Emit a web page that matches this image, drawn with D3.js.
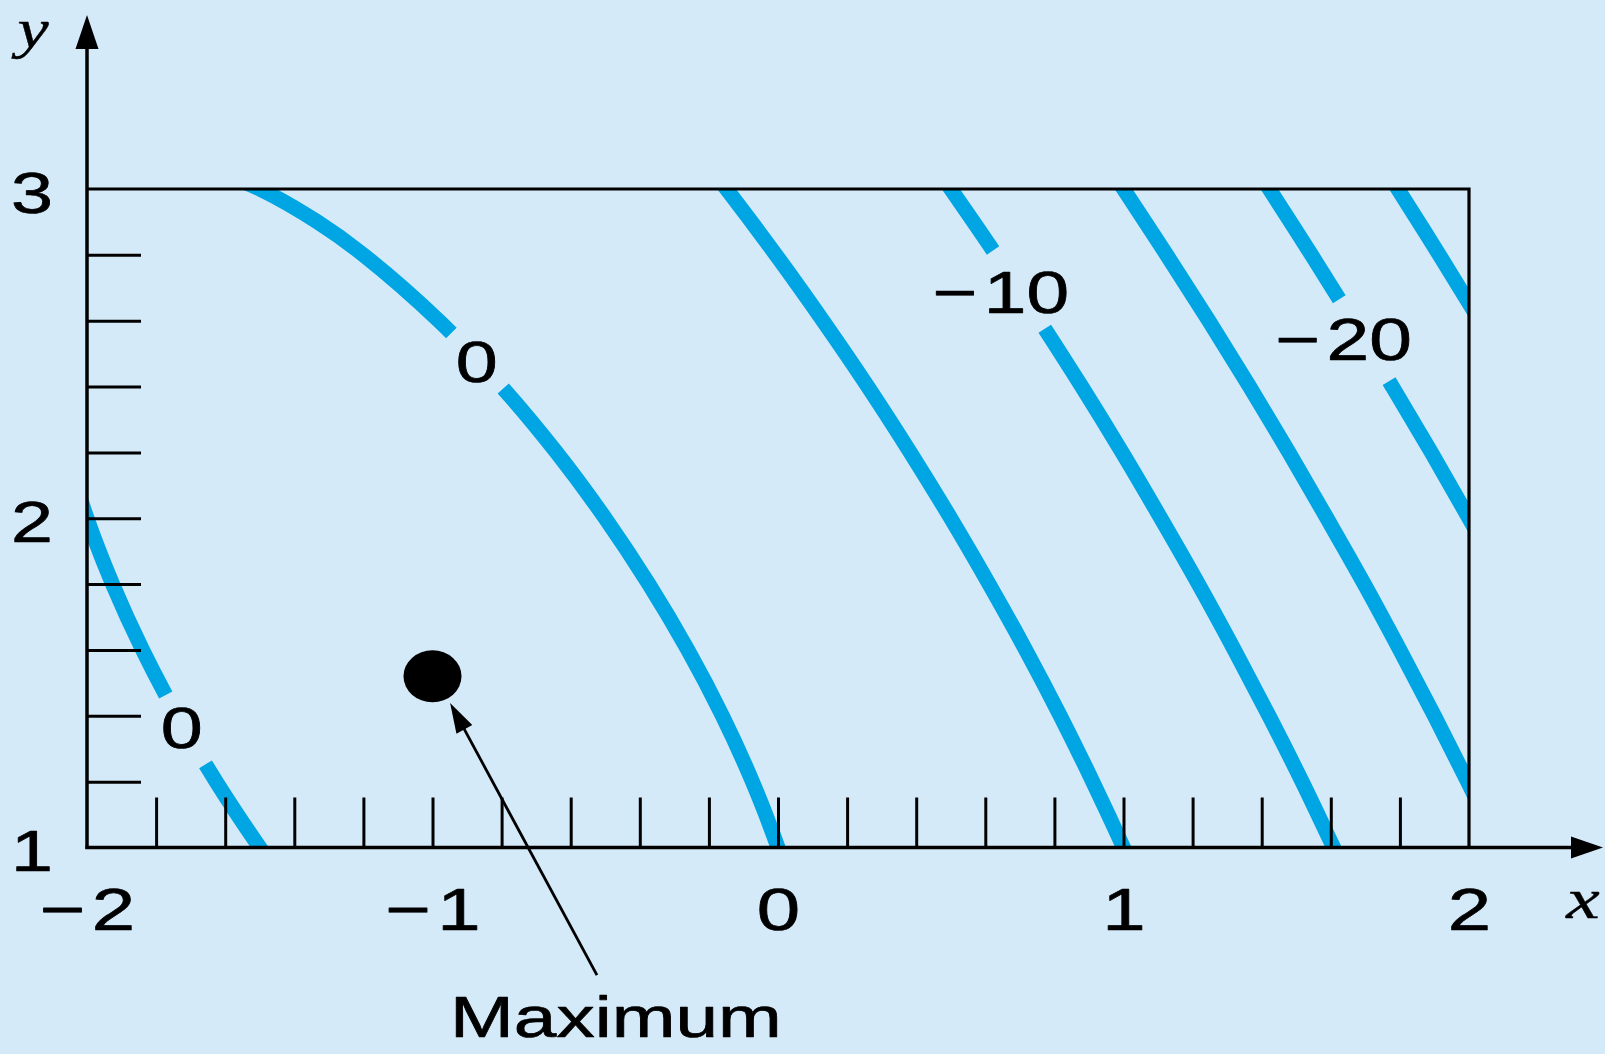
<!DOCTYPE html>
<html>
<head>
<meta charset="utf-8">
<script src="https://cdn.jsdelivr.net/npm/d3@7"></script>
<style>
  html, body { margin: 0; padding: 0; background: #d5eaf9; }
  svg { display: block; }
</style>
</head>
<body>
<svg id="chart" width="1605" height="1054"></svg>
<script>
// ---- Contour lines of f(x, y), each listed from bottom (y = 1) to top (y = 3) ----
const contour0Upper = [[0.016, 0.95], [0.0, 1.0], [-0.074, 1.2], [-0.161, 1.4], [-0.261, 1.6], [-0.374, 1.8],
  [-0.5, 2.0], [-0.641, 2.2], [-0.8, 2.4], [-0.982, 2.6], [-1.2, 2.8], [-1.333, 2.9], [-1.5, 3.0], [-1.62, 3.05]];
const contour0Lower = [[-1.466, 0.95], [-1.5, 1.0], [-1.626, 1.2], [-1.739, 1.4], [-1.839, 1.6], [-1.926, 1.8],
  [-2.0, 2.0], [-2.06, 2.2]];
const contourM5 = [[1.021, 0.95], [1.0, 1.0], [0.911, 1.2], [0.817, 1.4], [0.717, 1.6], [0.611, 1.8], [0.5, 2.0],
  [0.383, 2.2], [0.26, 2.4], [0.13, 2.6], [-0.006, 2.8], [-0.149, 3.0], [-0.224, 3.1]];
const contourM10 = [[1.631, 0.95], [1.608, 1.0], [1.517, 1.2], [1.421, 1.4], [1.321, 1.6], [1.217, 1.8], [1.108, 2.0],
  [0.996, 2.2], [0.879, 2.4], [0.757, 2.6], [0.631, 2.8], [0.5, 3.0], [0.433, 3.1]];
const contourM15 = [[2.089, 1.0], [1.996, 1.2], [1.9, 1.4], [1.8, 1.6], [1.697, 1.8], [1.589, 2.0], [1.479, 2.2],
  [1.365, 2.4], [1.247, 2.6], [1.125, 2.8], [1.0, 3.0], [0.936, 3.1]];
const contourM20 = [[2.106, 1.8], [2.0, 2.0], [1.891, 2.2], [1.778, 2.4], [1.663, 2.6], [1.544, 2.8], [1.422, 3.0], [1.36, 3.1]];
const contourM25 = [[2.145, 2.4], [2.031, 2.6], [1.914, 2.8], [1.794, 3.0], [1.733, 3.1]];

const contourLevels = [0, 0, -5, -10, -15, -20, -25];
const contourPoints = [contour0Upper, contour0Lower, contourM5, contourM10, contourM15, contourM20, contourM25];

// Level labels written on the lines
const labelTexts = ["0", "0", "−10", "−20"];
const labelContour = [0, 1, 3, 5];
const labelX = [-0.872, -1.726, 0.645, 1.637];
const labelY = [2.477, 1.365, 2.687, 2.546];

// Axes
const xTickLabels = [-2, -1, 0, 1, 2];
const yTickLabels = [1, 2, 3];
const xMinorTicks = [-1.8, -1.6, -1.4, -1.2, -1.0, -0.8, -0.6, -0.4, -0.2, 0, 0.2, 0.4, 0.6, 0.8, 1.0, 1.2, 1.4, 1.6, 1.8];
const yMinorTicks = [1.2, 1.4, 1.6, 1.8, 2.0, 2.2, 2.4, 2.6, 2.8];

// Maximum of the function and its annotation
const maxPoint = [-1, 1.52];
const maxCaption = "Maximum";
const maxCaptionPos = [-0.469, 0.424];
const maxArrowFrom = [-0.524, 0.6125];
const maxArrowTo = [-0.949, 1.439];

// ---- Layout / style ----
const W = 1605, H = 1054;
const BG = "#d5eaf9";
const LINE = "#00a5e3";
const FONT = "'Liberation Sans', Arial, sans-serif";
const SERIF = "'Liberation Serif', 'Times New Roman', serif";
const STRETCH = 1.3;             // type is set wide
const TEXT_STROKE = 0.7;         // slightly heavier type
const labelFont = [58, 58, 59, 59];
const labelGap = [38, 40, 47, 48]; // half-length of the break in the line
const labelShift = [0, -4, -8, -12];

const svg = d3.select("#chart");
svg.append("rect").attr("width", W).attr("height", H).attr("fill", BG);

const x = d3.scaleLinear().domain([-2, 2]).range([87, 1469]);
const y = d3.scaleLinear().domain([1, 3]).range([847.5, 189]);

svg.append("clipPath").attr("id", "plot-clip")
  .append("rect")
  .attr("x", x(-2)).attr("y", y(3))
  .attr("width", x(2) - x(-2)).attr("height", y(1) - y(3));

const heavy = sel => sel.attr("stroke", "#000").attr("stroke-width", TEXT_STROKE)
  .attr("stroke-linejoin", "round").attr("fill", "#000");

// ---- Contour lines ----
const line = d3.line()
  .x(d => x(d[0])).y(d => y(d[1]))
  .curve(d3.curveCatmullRom.alpha(0.5));

const contours = contourPoints.map((pts, i) => ({ level: contourLevels[i], pts }));

const paths = svg.append("g")
  .attr("clip-path", "url(#plot-clip)")
  .selectAll("path")
  .data(contours)
  .join("path")
  .attr("d", d => line(d.pts))
  .attr("fill", "none")
  .attr("stroke", LINE)
  .attr("stroke-width", 15)
  .attr("stroke-linecap", "butt");

// Break each labelled line around its label
labelTexts.forEach((t, k) => {
  const node = paths.nodes()[labelContour[k]];
  const L = node.getTotalLength();
  const px = x(labelX[k]), py = y(labelY[k]);
  let best = 0, bestD = Infinity;
  for (let s = 0; s <= L; s += 0.5) {
    const p = node.getPointAtLength(s);
    const dd = (p.x - px) ** 2 + (p.y - py) ** 2;
    if (dd < bestD) { bestD = dd; best = s; }
  }
  const c = best + labelShift[k];
  const g = labelGap[k];
  d3.select(node).attr("stroke-dasharray", `${Math.max(0, c - g)} ${2 * g} ${L}`);
});

// ---- Frame (top and right edges of the region) ----
svg.append("path")
  .attr("d", `M${x(-2)},${y(3)}H${x(2)}V${y(1)}`)
  .attr("fill", "none").attr("stroke", "#000").attr("stroke-width", 3.2);

// ---- Axes with minor ticks ----
const xTicksG = svg.append("g")
  .attr("transform", `translate(0,${y(1)})`)
  .call(d3.axisBottom(x).tickValues(xMinorTicks).tickSize(-50).tickFormat(""))
  .call(g => g.select(".domain").remove());
xTicksG.selectAll(".tick line").attr("stroke", "#000").attr("stroke-width", 3);

const yTicksG = svg.append("g")
  .attr("transform", `translate(${x(-2)},0)`)
  .call(d3.axisLeft(y).tickValues(yMinorTicks).tickSize(-54).tickFormat(""))
  .call(g => g.select(".domain").remove());
yTicksG.selectAll(".tick line").attr("stroke", "#000").attr("stroke-width", 3);

const fmt = d => (d < 0 ? "−\u200A" + Math.abs(d) : String(d));

const xLabelsG = svg.append("g")
  .attr("transform", `translate(0,${y(1)})`)
  .call(d3.axisBottom(x).tickValues(xTickLabels).tickSize(0).tickFormat(fmt))
  .call(g => g.select(".domain").remove());
xLabelsG.attr("font-family", FONT).attr("font-size", 60);
xLabelsG.selectAll("text")
  .attr("y", 83).attr("dy", null)
  .attr("transform", `scale(${STRETCH},1)`)
  .call(heavy);

const yLabelsG = svg.append("g")
  .attr("transform", `translate(${x(-2)},0)`)
  .call(d3.axisLeft(y).tickValues(yTickLabels).tickSize(0).tickFormat(d3.format("d")))
  .call(g => g.select(".domain").remove());
yLabelsG.attr("font-family", FONT).attr("font-size", 58).attr("text-anchor", "middle");
yLabelsG.selectAll("text")
  .attr("x", 0).attr("dy", "0.4em")
  .attr("transform", `translate(-55,0) scale(${STRETCH},1)`)
  .call(heavy);

// Main axis lines with arrowheads
const ax = svg.append("g").attr("fill", "#000").attr("stroke", "#000");
ax.append("line")
  .attr("x1", x(-2)).attr("y1", y(1) + 1.5).attr("x2", x(-2)).attr("y2", 40)
  .attr("stroke-width", 3.5);
ax.append("path").attr("stroke", "none")
  .attr("d", `M${x(-2)},15L${x(-2) - 11.5},49L${x(-2) + 11.5},49Z`);
ax.append("line")
  .attr("x1", x(-2) - 1.5).attr("y1", y(1)).attr("x2", 1578).attr("y2", y(1))
  .attr("stroke-width", 3.5);
ax.append("path").attr("stroke", "none")
  .attr("d", `M1603,${y(1)}L1571,${y(1) - 11}L1571,${y(1) + 11}Z`);

// Axis names
svg.append("text")
  .attr("transform", `translate(33,47) scale(${STRETCH},1)`)
  .attr("text-anchor", "middle")
  .attr("font-family", SERIF).attr("font-style", "italic").attr("font-size", 54)
  .attr("stroke", "#000").attr("stroke-width", 0.4)
  .text("y");
svg.append("text")
  .attr("transform", `translate(1583,918) scale(${STRETCH},1)`)
  .attr("text-anchor", "middle")
  .attr("font-family", SERIF).attr("font-style", "italic").attr("font-size", 58)
  .attr("stroke", "#000").attr("stroke-width", 0.4)
  .text("x");

// ---- Contour level labels ----
svg.append("g")
  .selectAll("text")
  .data(labelTexts)
  .join("text")
  .attr("transform", (d, k) => `translate(${x(labelX[k])},${y(labelY[k])}) scale(${STRETCH},1)`)
  .attr("text-anchor", "middle")
  .attr("dy", "0.36em")
  .attr("font-family", FONT)
  .attr("font-size", (d, k) => labelFont[k])
  .call(heavy)
  .text(d => d.replace("−", "−\u200A"));

// ---- Maximum point and annotation ----
svg.append("ellipse")
  .attr("cx", x(maxPoint[0])).attr("cy", y(maxPoint[1]))
  .attr("rx", 29).attr("ry", 26)
  .attr("fill", "#000");

const tip = [x(maxArrowTo[0]), y(maxArrowTo[1])];
const tail = [x(maxArrowFrom[0]), y(maxArrowFrom[1])];
const len = Math.hypot(tail[0] - tip[0], tail[1] - tip[1]);
const ux = (tail[0] - tip[0]) / len, uy = (tail[1] - tip[1]) / len;
const headLen = 30, headHalf = 9;
const base = [tip[0] + ux * headLen, tip[1] + uy * headLen];
svg.append("line")
  .attr("x1", tail[0]).attr("y1", tail[1])
  .attr("x2", base[0] - ux * 2).attr("y2", base[1] - uy * 2)
  .attr("stroke", "#000").attr("stroke-width", 2.8);
svg.append("path")
  .attr("d", `M${tip[0]},${tip[1]}L${base[0] - uy * headHalf},${base[1] + ux * headHalf}L${base[0] + uy * headHalf},${base[1] - ux * headHalf}Z`)
  .attr("fill", "#000");

svg.append("text")
  .attr("transform", `translate(${x(maxCaptionPos[0])},${y(maxCaptionPos[1])}) scale(${STRETCH + 0.02},1)`)
  .attr("text-anchor", "middle")
  .attr("font-family", FONT).attr("font-size", 58)
  .call(heavy)
  .text(maxCaption);
</script>
</body>
</html>
